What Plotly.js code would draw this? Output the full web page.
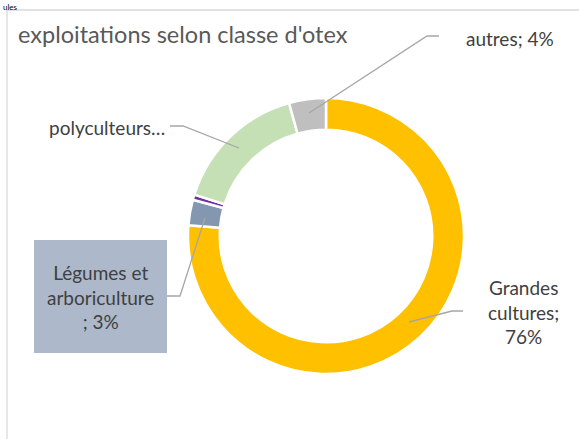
<!DOCTYPE html>
<html><head><meta charset="utf-8">
<script src="https://cdn.plot.ly/plotly-3.0.1.min.js"></script>
<style>html,body{margin:0;padding:0;background:#fff;}#c{width:579px;height:439px;}</style>
</head><body><div id="c"></div>
<script>
var categories = ["Grandes cultures", "Légumes et arboriculture", "viticulture", "polyculteurs…", "autres"];
var values = [76, 3, 0.6, 15.8, 4.3];
var colors = ["#FFC000", "#8497B0", "#7030A0", "#C5E0B4", "#BFBFBF"];
var titleText = "exploitations selon classe d'otex";

var W = 579, H = 439;
function px(x){ return x / W; }
function py(y){ return 1 - y / H; }
function path(pts){
  return pts.map(function(p,i){ return (i ? "L" : "M") + px(p[0]) + "," + py(p[1]); }).join(" ");
}
var cx = 326, cy = 236, R = 138;
var lineStyle = {color: "#A6A6A6", width: 1.3};
var shapes = [
  {type:"line", xref:"paper", yref:"paper", x0:px(7), x1:px(7), y0:py(10), y1:py(440), line:{color:"#D9D9D9", width:1.3}},
  {type:"line", xref:"paper", yref:"paper", x0:px(7), x1:px(580), y0:py(10), y1:py(10), line:{color:"#D9D9D9", width:1.3}},
  {type:"path", xref:"paper", yref:"paper", path:path([[309,113],[427,36],[439,36]]), line:lineStyle},
  {type:"path", xref:"paper", yref:"paper", path:path([[239,148],[183,126],[170,126]]), line:lineStyle},
  {type:"path", xref:"paper", yref:"paper", path:path([[205,218],[180,296],[167,296]]), line:lineStyle},
  {type:"path", xref:"paper", yref:"paper", path:path([[409,322],[452,311],[463,311]]), line:lineStyle},
  {type:"rect", xref:"paper", yref:"paper", x0:px(34), x1:px(167), y0:py(240), y1:py(353), fillcolor:"#ADB9CA", line:{width:0}, layer:"below"}
];
var fam = "Lato, sans-serif";
var lf = {family:fam, size:19, color:"#404040"};
var annotations = [
  {text:"ules", x:px(1), y:py(0), xanchor:"left", yanchor:"top", showarrow:false, font:{family:fam, size:8, color:"#000"}},
  {text:titleText, x:px(16), y:py(34), xanchor:"left", yanchor:"middle", showarrow:false, font:{family:fam, size:23.5, color:"#595959"}},
  {text:categories[4] + "; 4%", x:px(510), y:py(38), xanchor:"center", yanchor:"middle", showarrow:false, font:lf},
  {text:categories[3], x:px(107), y:py(128), xanchor:"center", yanchor:"middle", showarrow:false, font:lf},
  {text:"Légumes et<br>arboriculture<br>; 3%", x:px(100), y:py(297), xanchor:"center", yanchor:"middle", showarrow:false, font:lf},
  {text:"Grandes<br>cultures;<br>76%", x:px(523), y:py(312), xanchor:"center", yanchor:"middle", showarrow:false, font:lf}
];
var data = [{
  type:"pie", labels:categories, values:values, sort:false, direction:"clockwise", rotation:0,
  hole:0.77, textinfo:"none", hoverinfo:"label+percent",
  marker:{colors:colors, line:{color:"#FFFFFF", width:2.5}},
  domain:{x:[px(cx-R), px(cx+R)], y:[py(cy+R), py(cy-R)]}
}];
var layout = {
  width:W, height:H, margin:{l:0,r:0,t:0,b:0}, showlegend:false,
  paper_bgcolor:"#FFFFFF", shapes:shapes, annotations:annotations
};
Plotly.newPlot("c", data, layout, {displayModeBar:false, staticPlot:true});
</script></body></html>
